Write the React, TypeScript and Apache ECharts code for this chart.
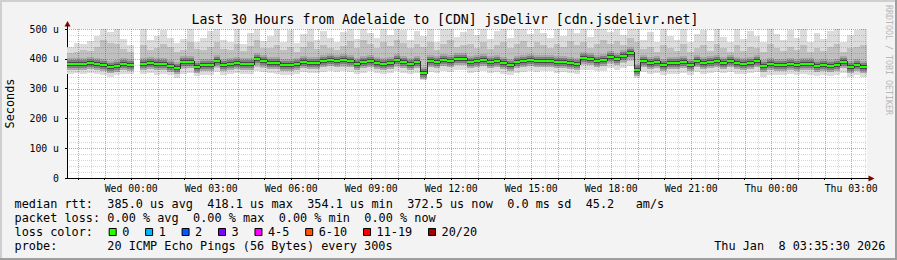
import React, { useEffect, useRef } from "react";
import * as echarts from "echarts";

// time axis: minutes relative to Wed 00:00
const START_MIN = -144.5;
const END_MIN = 1655.5;
const STEP_MIN = 15;

// median RTT (microseconds), one value per 15 minutes, null = no data
const medianRtt: (number | null)[] = [
  383, 382, 381, 385, 383, 378, 374, 377, 382, 379,
  null, 381, 386, 381, 384, 377, 370, 390, 388, 374,
  380, 379, 394, 378, 384, 385, 381, 384, 400, 392,
  387, 385, 378, 379, 384, 388, 385, 387, 392, 395,
  393, 395, 394, 382, 389, 393, 386, 383, 385, 396,
  388, 382, 390, 354, 391, 389, 397, 391, 401, 398,
  389, 391, 397, 388, 392, 385, 380, 389, 393, 396,
  391, 393, 393, 389, 390, 386, 383, 403, 399, 394,
  396, 405, 401, 408, 418, 364, 393, 386, 390, 378,
  385, 385, 388, 379, 392, 386, 390, 394, 387, 391,
  385, 383, 386, 391, 375, 382, 379, 380, 384, 379,
  383, 382, 375, 379, 375, 378, 388, 371, 378, 373,
];

// smoke: highest ping
const smokeHigh: (number | null)[] = [
  440, 452, 448, 460, 475, 505, 490, 500, 468, 445,
  null, 505, 462, 478, 498, 470, 452, 466, 510, 458,
  470, 492, 505, 462, 455, 508, 448, 488, 505, 460,
  476, 500, 458, 496, 452, 482, 505, 462, 494, 470,
  458, 490, 505, 466, 510, 486, 470, 505, 480, 510,
  498, 464, 492, 478, 505, 455, 500, 510, 472, 490,
  505, 480, 510, 468, 494, 505, 470, 500, 510, 482,
  500, 488, 470, 505, 478, 510, 486, 505, 472, 500,
  510, 490, 505, 480, 510, 500, 462, 490, 456, 505,
  476, 462, 500, 455, 484, 496, 460, 505, 474, 455,
  505, 466, 494, 478, 458, 505, 484, 462, 498, 470,
  505, 456, 488, 466, 494, 505, 458, 480, 496, 505,
];

// smoke: upper inner band
const smokeUpper: (number | null)[] = [
  418, 424, 428, 426, 440, 462, 452, 450, 434, 422,
  null, 446, 430, 436, 450, 440, 422, 428, 455, 432,
  428, 440, 458, 434, 430, 450, 426, 444, 462, 436,
  436, 446, 428, 440, 422, 440, 455, 432, 446, 436,
  428, 444, 460, 436, 462, 450, 436, 458, 444, 464,
  452, 436, 450, 440, 455, 428, 450, 462, 440, 446,
  450, 436, 458, 432, 446, 455, 436, 450, 460, 440,
  455, 446, 436, 450, 440, 460, 446, 455, 436, 450,
  462, 450, 460, 446, 470, 455, 432, 440, 422, 446,
  436, 426, 450, 422, 436, 446, 426, 450, 436, 422,
  446, 426, 440, 436, 422, 450, 436, 426, 440, 430,
  446, 422, 436, 426, 440, 450, 422, 436, 440, 446,
];

// smoke: lower inner band
const smokeLower: (number | null)[] = [
  365, 366, 364, 367, 365, 362, 358, 360, 364, 362,
  null, 363, 367, 362, 365, 360, 352, 366, 368, 356,
  362, 361, 370, 360, 366, 367, 363, 366, 374, 370,
  368, 366, 360, 361, 366, 370, 367, 369, 372, 375,
  372, 374, 373, 364, 370, 374, 368, 365, 367, 374,
  370, 364, 370, 345, 372, 370, 376, 372, 380, 378,
  370, 372, 376, 369, 372, 366, 362, 370, 373, 376,
  372, 374, 374, 370, 371, 367, 364, 380, 378, 374,
  376, 384, 380, 386, 392, 352, 372, 366, 370, 360,
  366, 366, 368, 360, 371, 366, 370, 373, 368, 371,
  366, 364, 367, 371, 357, 363, 360, 361, 365, 360,
  364, 363, 357, 360, 357, 360, 368, 354, 360, 356,
];

// smoke: lowest ping
const smokeLow: (number | null)[] = [
  350, 352, 348, 352, 350, 345, 340, 345, 350, 348,
  null, 348, 352, 345, 350, 345, 335, 350, 352, 342,
  346, 345, 355, 344, 350, 352, 348, 350, 358, 355,
  352, 350, 345, 346, 350, 355, 352, 353, 356, 360,
  356, 358, 357, 348, 354, 358, 352, 350, 351, 358,
  354, 348, 354, 330, 356, 354, 360, 356, 364, 362,
  354, 356, 360, 352, 356, 350, 346, 354, 357, 360,
  356, 358, 358, 354, 355, 351, 348, 364, 362, 358,
  360, 368, 364, 370, 376, 335, 356, 350, 354, 344,
  350, 350, 352, 344, 355, 350, 354, 357, 352, 355,
  350, 348, 351, 355, 340, 347, 344, 345, 349, 344,
  348, 347, 341, 344, 341, 344, 352, 338, 344, 340,
];

const tickTimes = [0, 180, 360, 540, 720, 900, 1080, 1260, 1440, 1620];
const tickLabels = [
  "Wed 00:00", "Wed 03:00", "Wed 06:00", "Wed 09:00", "Wed 12:00",
  "Wed 15:00", "Wed 18:00", "Wed 21:00", "Thu 00:00", "Thu 03:00",
];
const yTicks = [0, 100, 200, 300, 400, 500];
const yTickLabels = ["0", "100 u", "200 u", "300 u", "400 u", "500 u"];

const titleText = "Last 30 Hours from Adelaide to [CDN] jsDelivr [cdn.jsdelivr.net]";

// legend rows: [text, character column]
const legendRtt: [string, number][] = [
  ["median rtt:", 0], ["385.0 us avg", 13], ["418.1 us max", 27], ["354.1 us min", 41],
  ["372.5 us now", 55], ["0.0 ms sd", 69], ["45.2", 80], ["am/s", 87],
];
const legendLoss: [string, number][] = [
  ["packet loss:", 0], ["0.00 % avg", 13], ["0.00 % max", 25], ["0.00 % min", 37], ["0.00 % now", 49],
];
const legendColorTitle = "loss color:";
const lossLabels = ["0", "1", "2", "3", "4-5", "6-10", "11-19", "20/20"];
const lossColors = ["#26ff00", "#00b8ff", "#0059ff", "#7e00ff", "#ff00ff", "#ff5500", "#ff0000", "#a10000"];
const legendProbe: [string, number][] = [["probe:", 0], ["20 ICMP Echo Pings (56 Bytes) every 300s", 13]];
const legendDate: [string, number][] = [["Thu Jan", 98], ["8 03:35:30 2026", 107]];
const yAxisName = "Seconds";
const watermark = "RRDTOOL / TOBI OETIKER";

const MONO = '"DejaVu Sans Mono", monospace';

export default function App() {
  const ref = useRef<HTMLDivElement>(null);

  useEffect(() => {
    if (!ref.current) return;
    const chart = echarts.init(ref.current, undefined, { renderer: "svg" });

    const smokeData: any[] = [];
    const medData: any[] = [];
    medianRtt.forEach((m, i) => {
      if (m == null) return;
      const t = START_MIN + i * STEP_MIN;
      smokeData.push([t, smokeLow[i], smokeLower[i], m, smokeUpper[i], smokeHigh[i]]);
      const prev = i > 0 && medianRtt[i - 1] != null ? medianRtt[i - 1] : m;
      medData.push([t, m, prev]);
    });

    const vGrid: number[][] = [];
    for (let t = -120; t <= END_MIN; t += 30) vGrid.push([t, t % 60 === 0 ? 1 : 0]);
    const hGrid: number[][] = [];
    for (let v = 20; v <= 500; v += 20) hGrid.push([START_MIN, v, v % 100 === 0 ? 1 : 0]);
    const hourTicks: number[] = [];
    for (let t = -120; t <= END_MIN; t += 60) hourTicks.push(t);

    const clipOf = (params: any) => {
      const cs = params.coordSys;
      return { x: cs.x, y: cs.y, width: cs.width, height: cs.height };
    };

    const smokeRender = (params: any, api: any) => {
      const t = api.value(0);
      const clip = clipOf(params);
      const xa = Math.round(api.coord([t, 0])[0]);
      const xb = Math.round(api.coord([t + STEP_MIN, 0])[0]);
      const yv = (v: number) => Math.round(api.coord([t, v])[1]);
      const rect = (y1: number, y2: number, fill: string) => {
        const shape = echarts.graphic.clipRectByRect(
          { x: xa, y: Math.min(y1, y2), width: xb - xa, height: Math.abs(y1 - y2) },
          clip
        );
        return shape ? { type: "rect", shape, style: { fill } } : null;
      };
      const ym = yv(api.value(3));
      const children = [
        rect(yv(api.value(1)), yv(api.value(5)), "#dcdcdc"),
        rect(yv(api.value(2)), yv(api.value(4)), "#c0c0c0"),
        rect(ym - 6, ym + 6, "#a8a8a8"),
        rect(ym - 4, ym + 4, "#808080"),
        rect(ym - 2, ym + 2, "#484848"),
      ].filter(Boolean);
      return { type: "group", children };
    };

    const medRender = (params: any, api: any) => {
      const t = api.value(0);
      const xa = Math.round(api.coord([t, 0])[0]);
      const xb = Math.round(api.coord([t + STEP_MIN, 0])[0]);
      const ym = Math.round(api.coord([t, api.value(1)])[1]);
      const yp = Math.round(api.coord([t, api.value(2)])[1]);
      return {
        type: "group",
        children: [
          { type: "rect", shape: { x: xa, y: Math.min(ym, yp) - 1, width: 1, height: Math.abs(ym - yp) + 2 }, style: { fill: "#303030" } },
          { type: "rect", shape: { x: xa, y: ym - 1, width: xb - xa, height: 2 }, style: { fill: "#26ff00" } },
        ],
      };
    };

    const vGridRender = (params: any, api: any) => {
      const t = api.value(0);
      const major = api.value(1) === 1;
      const x = Math.round(api.coord([t, 0])[0]) + 0.5;
      const y1 = api.coord([t, 0])[1];
      const y2 = api.coord([t, 500])[1];
      return {
        type: "line",
        shape: { x1: x, y1, x2: x, y2 },
        style: { stroke: major ? "rgba(255,0,0,0.45)" : "rgba(0,0,0,0.16)", lineWidth: 1, lineDash: [1, 1] },
      };
    };

    const hGridRender = (params: any, api: any) => {
      const v = api.value(1);
      const major = api.value(2) === 1;
      const y = Math.round(api.coord([START_MIN, v])[1]) + 0.5;
      const x1 = api.coord([START_MIN, v])[0];
      const x2 = api.coord([END_MIN, v])[0];
      return {
        type: "line",
        shape: { x1, y1: y, x2, y2: y },
        style: { stroke: major ? "rgba(255,0,0,0.45)" : "rgba(0,0,0,0.16)", lineWidth: 1, lineDash: [1, 1] },
      };
    };

    const CW = 7.14;
    const LX = 14.5;
    const LF = 11.85;
    const rowY = [204, 218.3, 232.3, 246];
    const textEl = (text: string, x: number, y: number, extra: any = {}) => ({
      type: "text",
      x,
      y,
      silent: true,
      style: {
        text,
        fill: "#000",
        fontSize: LF,
        fontFamily: MONO,
        textAlign: "left",
        textVerticalAlign: "middle",
        align: "left",
        verticalAlign: "middle",
        ...extra,
      },
    });
    const graphics: any[] = [];
    const addRow = (row: [string, number][], y: number) =>
      row.forEach(([s, c]) => graphics.push(textEl(s, LX + c * CW, y)));
    addRow(legendRtt, rowY[0]);
    addRow(legendLoss, rowY[1]);
    graphics.push(textEl(legendColorTitle, LX, rowY[2]));
    let bx = 108.7;
    lossLabels.forEach((lab, i) => {
      graphics.push({
        type: "rect",
        silent: true,
        shape: { x: bx + 0.5, y: 228.5, width: 7, height: 7 },
        style: { fill: lossColors[i], stroke: "#000", lineWidth: 1 },
      });
      const lx = bx + 13.5;
      graphics.push(textEl(lab, lx, rowY[2]));
      bx = lx + lab.length * CW + 15.8;
    });
    addRow(legendProbe, rowY[3]);
    addRow(legendDate, rowY[3]);

    // title
    graphics.push(textEl(titleText, 191.5, 19.3, { fontSize: 13.17 }));
    // y axis name
    graphics.push({
      type: "text",
      x: 10,
      y: 103.5,
      rotation: Math.PI / 2,
      silent: true,
      style: {
        text: yAxisName, fill: "#000", fontSize: LF, fontFamily: MONO,
        textAlign: "center", textVerticalAlign: "middle", align: "center", verticalAlign: "middle",
      },
    });
    // watermark
    graphics.push({
      type: "text",
      x: 889,
      y: 60,
      rotation: -Math.PI / 2,
      silent: true,
      style: {
        text: watermark, fill: "#b8b8b8", fontSize: 8.3, fontFamily: MONO,
        textAlign: "center", textVerticalAlign: "middle", align: "center", verticalAlign: "middle",
      },
    });
    // axis extensions and arrows
    graphics.push({ type: "line", silent: true, shape: { x1: 67.5, y1: 29, x2: 67.5, y2: 24 }, style: { stroke: "#000", lineWidth: 1 } });
    graphics.push({ type: "polygon", silent: true, shape: { points: [[64.5, 26.5], [70.5, 26.5], [67.5, 21]] }, style: { fill: "#800000" } });
    graphics.push({ type: "line", silent: true, shape: { x1: 867, y1: 178.5, x2: 870, y2: 178.5 }, style: { stroke: "#000", lineWidth: 1 } });
    graphics.push({ type: "polygon", silent: true, shape: { points: [[868.5, 175.5], [868.5, 181.5], [874.5, 178.5]] }, style: { fill: "#800000" } });
    // border shading
    graphics.push({ type: "rect", silent: true, shape: { x: 0, y: 0, width: 897, height: 2 }, style: { fill: "#cfcfcf" } });
    graphics.push({ type: "rect", silent: true, shape: { x: 0, y: 0, width: 2, height: 260 }, style: { fill: "#cfcfcf" } });
    graphics.push({ type: "rect", silent: true, shape: { x: 0, y: 258, width: 897, height: 2 }, style: { fill: "#9e9e9e" } });
    graphics.push({ type: "rect", silent: true, shape: { x: 895, y: 0, width: 2, height: 260 }, style: { fill: "#9e9e9e" } });

    chart.setOption({
      animation: false,
      backgroundColor: "#f3f3f3",
      grid: {
        left: 67,
        top: 29,
        width: 800,
        height: 149,
        show: true,
        backgroundColor: "#ffffff",
        borderWidth: 0,
      },
      xAxis: {
        type: "value",
        min: START_MIN,
        max: END_MIN,
        axisLine: { show: true, onZero: false, lineStyle: { color: "#000", width: 1 } },
        axisTick: { show: true, customValues: hourTicks, length: 2, lineStyle: { color: "#000" } },
        axisLabel: {
          customValues: tickTimes,
          formatter: (v: number) => {
            const k = tickTimes.indexOf(Math.round(v));
            return k >= 0 ? tickLabels[k] : "";
          },
          fontFamily: MONO,
          fontSize: 9.8,
          color: "#000",
          margin: 5,
        },
        splitLine: { show: false },
      },
      yAxis: {
        type: "value",
        min: 0,
        max: 500,
        interval: 100,
        axisLine: { show: true, onZero: false, lineStyle: { color: "#000", width: 1 } },
        axisTick: { show: true, length: 2, lineStyle: { color: "#000" } },
        axisLabel: {
          formatter: (v: number) => {
            const k = yTicks.indexOf(v);
            return k >= 0 ? yTickLabels[k] : "";
          },
          fontFamily: MONO,
          fontSize: 9.8,
          color: "#000",
          margin: 8,
        },
        splitLine: { show: false },
      },
      series: [
        { type: "custom", name: "smoke", renderItem: smokeRender, data: smokeData, encode: { x: 0, y: 3 }, z: 1, silent: true },
        { type: "custom", name: "vgrid", renderItem: vGridRender, data: vGrid, encode: { x: 0, y: 1 }, z: 2, silent: true },
        { type: "custom", name: "hgrid", renderItem: hGridRender, data: hGrid, encode: { x: 0, y: 1 }, z: 2, silent: true },
        { type: "custom", name: "median rtt", renderItem: medRender, data: medData, encode: { x: 0, y: 1 }, z: 3, silent: true },
      ],
      graphic: { elements: graphics },
    });

    return () => chart.dispose();
  }, []);

  return (
    <div
      ref={ref}
      style={{ position: "fixed", left: 0, top: 0, width: 897, height: 260 }}
    />
  );
}
